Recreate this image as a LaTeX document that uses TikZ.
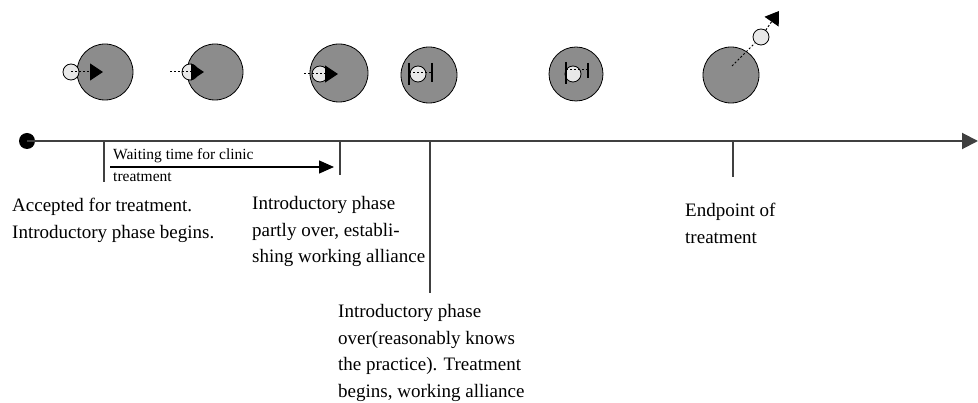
\documentclass[tikz,border=0pt]{standalone}
\usepackage{fontspec}
\setmainfont{Liberation Serif}
\usetikzlibrary{arrows.meta}
\begin{document}
\begin{tikzpicture}[x=1pt,y=-1pt,
  big/.style={circle,draw=black,line width=0.8pt,fill=black!45,minimum size=#1,inner sep=0pt},
  small/.style={circle,draw=black,line width=0.8pt,fill=black!9,minimum size=16pt,inner sep=0pt},
  dsh/.style={dashed,dash pattern=on 2pt off 2pt,line width=1pt},
  pusharrow/.style={dsh,-{Triangle[length=13pt,width=17pt]}},
  bar/.style={line width=1.8pt,black},
  tick/.style={line width=1.4pt,black!75},
  lbl/.style={align=left,anchor=base west,inner sep=0pt,font=\fontsize{19}{26.7}\selectfont},
  slbl/.style={anchor=base west,inner sep=0pt,font=\fontsize{15.5}{18}\selectfont}]
\useasboundingbox (0,0) rectangle (978,403);

% timeline
\node[circle,fill=black,minimum size=16pt,inner sep=0pt] (start) at (27,141) {};
\coordinate (axend) at (978,141);
\draw[line width=2pt,black!75,-{Triangle[length=16pt,width=16pt]}] (start.center) -- (axend);

% ticks
\coordinate (t1a) at (104,141); \coordinate (t1b) at (104,182);
\coordinate (t2a) at (340,141); \coordinate (t2b) at (340,175);
\coordinate (t3a) at (430,141); \coordinate (t3b) at (430,293);
\coordinate (t4a) at (733,141); \coordinate (t4b) at (733,177);
\draw[tick] (t1a) -- (t1b);
\draw[tick] (t2a) -- (t2b);
\draw[tick] (t3a) -- (t3b);
\draw[tick] (t4a) -- (t4b);

% waiting arrow
\coordinate (w1) at (110,167); \coordinate (w2) at (334,167);
\draw[line width=1.3pt,-{Triangle[length=15pt,width=13pt]}] (w1) -- (w2);
\node[slbl] (wt) at (113,160) {Waiting time for clinic};
\node[slbl] (wt2) at (113,182) {treatment};

% labels (base anchor = baseline of last line)
\node[lbl] (l1) at (12,238.5) {Accepted for treatment.\\Introductory phase begins.};
\node[lbl] (l2) at (252,263) {Introductory phase\\partly over, establi-\\shing working alliance};
\node[lbl] (l3) at (338,397.5) {Introductory phase\\over(reasonably knows\\the practice). Treatment\\begins, working alliance};
\node[lbl] (l4) at (685,243.5) {Endpoint of\\treatment};

% stage 1
\node[big=56pt] (b1) at (105,72) {};
\node[small] (s1) at (71,72) {};
\coordinate (a1) at (103,72);
\draw[pusharrow] (s1.center) -- (a1);

% stage 2
\node[big=56pt] (b2) at (215,72) {};
\node[small] (s2) at (190,72) {};
\coordinate (d2) at (170,72); \coordinate (a2) at (204,72);
\draw[pusharrow] (d2) -- (a2);

% stage 3
\node[big=58pt] (b3) at (339,73) {};
\node[small] (s3) at (320,74) {};
\coordinate (d3) at (304,74); \coordinate (a3) at (338,74);
\draw[pusharrow] (d3) -- (a3);

% stage 4
\node[big=56pt] (b4) at (429,75) {};
\node[small] (s4) at (418,74) {};
\coordinate (l4a) at (409,63); \coordinate (l4b) at (409,85);
\coordinate (r4a) at (432,63); \coordinate (r4b) at (432,82);
\coordinate (m4a) at (409,73); \coordinate (m4b) at (432,73);
\draw[bar] (l4a) -- (l4b);
\draw[bar] (r4a) -- (r4b);
\draw[dsh] (m4a) -- (m4b);

% stage 5
\node[big=54pt] (b5) at (576,74) {};
\node[small] (s5) at (573,74) {};
\coordinate (l5a) at (566,62); \coordinate (l5b) at (566,84);
\coordinate (r5a) at (588,63); \coordinate (r5b) at (588,78);
\coordinate (m5a) at (566,70); \coordinate (m5b) at (588,70);
\draw[bar] (l5a) -- (l5b);
\draw[bar] (r5a) -- (r5b);
\draw[dsh] (m5a) -- (m5b);

% stage 6
\node[big=56pt] (b6) at (731,75) {};
\coordinate (d6) at (732,66);
\node[small] (s6) at (761,37) {};
\coordinate (a6) at (779,11);
\draw[dsh] (d6) -- (s6);
\draw[pusharrow] (s6) -- (a6);
\end{tikzpicture}
\end{document}
